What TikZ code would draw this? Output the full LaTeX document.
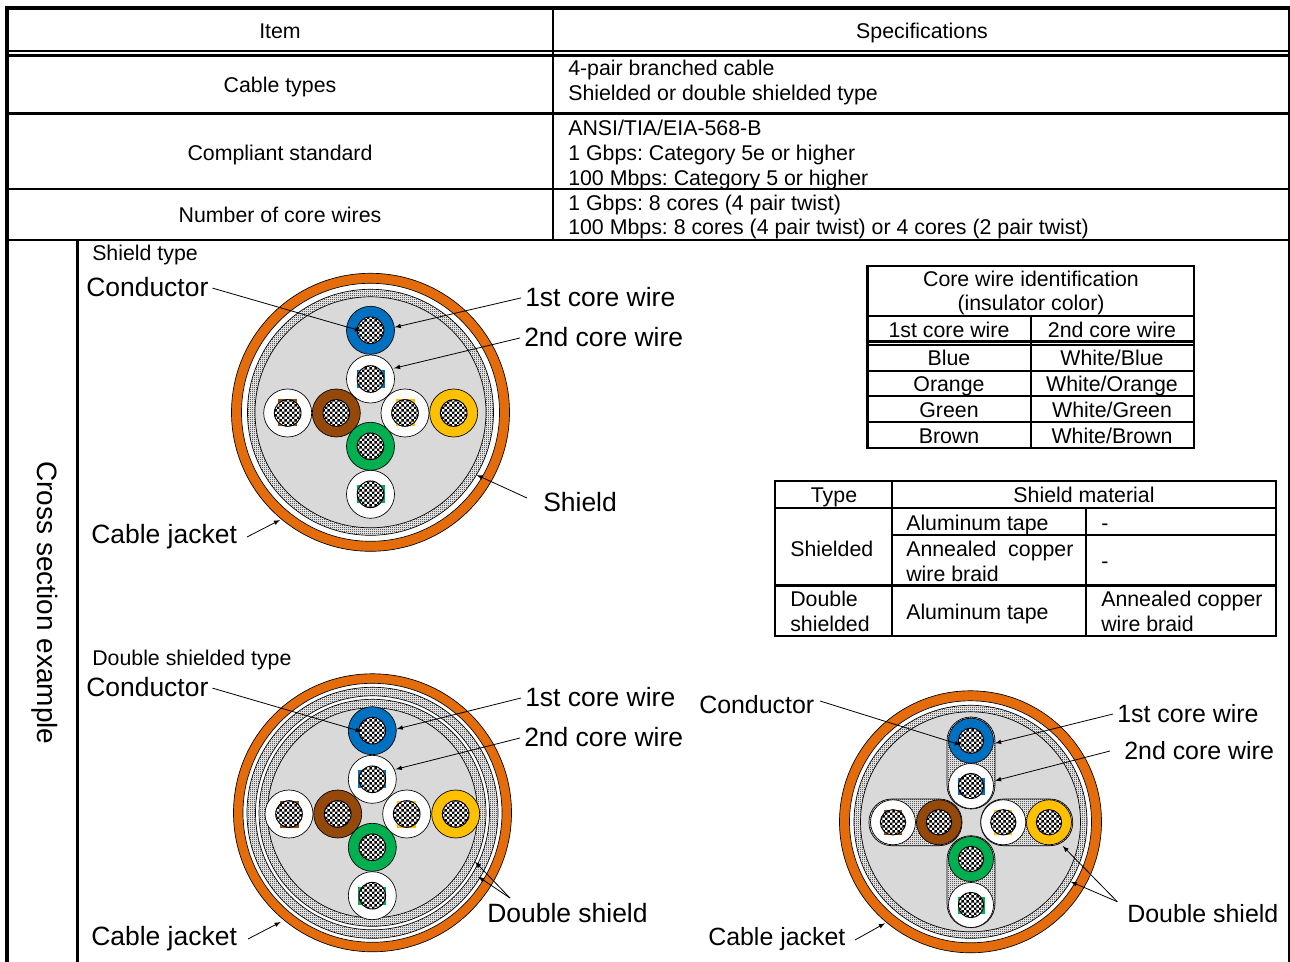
\documentclass[tikz,border=0pt]{standalone}
\usepackage{fontspec}
\setmainfont{Liberation Sans}
\usepackage{tikz}
\usetikzlibrary{arrows,patterns}
\definecolor{jacketorange}{RGB}{228,108,10}
\definecolor{coreblue}{RGB}{0,112,192}
\definecolor{corebrown}{RGB}{148,72,10}
\definecolor{coregreen}{RGB}{0,176,80}
\definecolor{coreorange}{RGB}{255,192,0}
\definecolor{fillgray}{RGB}{217,217,217}
\pgfdeclarepatternformonly{finedots}{\pgfpointorigin}{\pgfqpoint{1.5pt}{1.5pt}}{\pgfqpoint{1.5pt}{1.5pt}}{\pgfpathrectangle{\pgfpointorigin}{\pgfqpoint{0.75pt}{0.75pt}}\pgfpathrectangle{\pgfqpoint{0.75pt}{0.75pt}}{\pgfqpoint{0.75pt}{0.75pt}}\pgfusepath{fill}}
\pgfdeclarepatternformonly{finecheck}{\pgfpointorigin}{\pgfqpoint{4pt}{4pt}}{\pgfqpoint{4pt}{4pt}}{\pgfpathrectangle{\pgfpointorigin}{\pgfqpoint{2pt}{2pt}}\pgfpathrectangle{\pgfqpoint{2pt}{2pt}}{\pgfqpoint{2pt}{2pt}}\pgfusepath{fill}}
\tikzset{
  celltext/.style={inner sep=0pt,align=left,font=\fontsize{16}{18.6}\selectfont\frenchspacing},
  bigtext/.style={inner sep=0pt,font=\fontsize{19.85}{22}\selectfont},
  midtext/.style={inner sep=0pt,font=\fontsize{18.7}{22}\selectfont},
  frame/.style={line width=2.7pt},
  rule/.style={line width=1.6pt},
  subrule/.style={line width=1.6pt},
  jacket/.style={draw,fill=jacketorange,line width=0.5pt},
  whitegap/.style={draw,fill=white,line width=0.5pt},
  shieldband/.style={draw,line width=0.5pt,preaction={fill=white},pattern=finedots},
  grayfill/.style={draw,fill=fillgray,line width=0.5pt},
  insul/.style={circle,draw,line width=0.5pt,inner sep=0pt,minimum size=\insulsize},
  conductor/.style={circle,draw,line width=0.7pt,inner sep=0pt,minimum size=\condsize,preaction={fill=white},pattern=finecheck},
  leader/.style={-latex,line width=0.6pt},
  nodeleader/.style={-latex,line width=0.6pt,shorten <=3pt},
}
% one wire: name, x, y, colour
\newcommand{\corewire}[4]{
  \node [insul,fill=#4] (#1) at (#2,#3) {};
  \node [conductor] (#1c) at (#2,#3) {};
}
% white wire with stripe: name, x, y, colour, stripe w, stripe h
\newcommand{\stripewire}[6]{
  \node [insul,fill=white] (#1) at (#2,#3) {};
  \fill [#4] ({#2-#5/2},{#3-#6/2}) rectangle ({#2+#5/2},{#3+#6/2});
  \node [conductor] (#1c) at (#2,#3) {};
}
\begin{document}
\begin{tikzpicture}[x=0.75pt,y=-0.75pt]
  \useasboundingbox (0,0) rectangle (1290,962);
  % main table
  \draw [frame] (7,962)--(7,8)--(1290,8);
  \draw [rule] (1289,8)--(1289,962);
  \draw [rule] (6,51)--(1290,51);
  \draw [rule] (6,55.5)--(1290,55.5);
  \draw [rule] (6,113.5)--(1290,113.5);
  \draw [rule] (6,189)--(1290,189);
  \draw [rule] (6,240)--(1290,240);
  \draw [rule] (553,8)--(553,240);
  \draw [rule] (77.5,240)--(77.5,962);
  \node [celltext] (item) at (280,31) {Item};
  \node [celltext] (spec) at (922,33) {Specifications};
  \node [celltext] (types) at (280,87) {Cable types};
  \node [celltext,anchor=west] (typesv) at (568,82.5) {4-pair branched cable\\Shielded or double shielded type};
  \node [celltext] (standard) at (280,155) {Compliant standard};
  \node [celltext,anchor=west] (standardv) at (568,155) {ANSI/TIA/EIA-568-B\\1 Gbps: Category 5e or higher\\100 Mbps: Category 5 or higher};
  \node [celltext] (number) at (280,215) {Number of core wires};
  \node [celltext,anchor=west] (numberv) at (568,217) {1 Gbps: 8 cores (4 pair twist)\\100 Mbps: 8 cores (4 pair twist) or 4 cores (2 pair twist)};
  \node [inner sep=0pt,rotate=-90,font=\fontsize{21}{24}\selectfont] (cross) at (45,603) {Cross section example};
  \node [celltext,anchor=west] (shieldtype) at (92,255) {Shield type};
  \node [celltext,anchor=west] (doubletype) at (92,660) {Double shielded type};

  % colour table
  \draw [subrule] (867.5,266) rectangle (1194,448);
  \draw [subrule] (867.5,316)--(1194,316);
  \draw [subrule] (867.5,341.5)--(1194,341.5);
  \draw [subrule] (867.5,345)--(1194,345);
  \draw [subrule] (867.5,371)--(1194,371);
  \draw [subrule] (867.5,396)--(1194,396);
  \draw [subrule] (867.5,422)--(1194,422);
  \draw [subrule] (1031,316)--(1031,448);
  \node [celltext,align=center] (idhead) at (1031,293) {Core wire identification\\(insulator color)};
  \node [celltext] (h1st) at (949,330) {1st core wire};
  \node [celltext] (h2nd) at (1112,330) {2nd core wire};
  \node [celltext] (cblue) at (949,358) {Blue};
  \node [celltext] (cwblue) at (1112,358) {White/Blue};
  \node [celltext] (corange) at (949,386) {Orange};
  \node [celltext] (cworange) at (1112,386) {White/Orange};
  \node [celltext] (cgreen) at (949,410) {Green};
  \node [celltext] (cwgreen) at (1112,410) {White/Green};
  \node [celltext] (cbrown) at (949,436) {Brown};
  \node [celltext] (cwbrown) at (1112,436) {White/Brown};

  % shield table
  \draw [subrule] (775,481) rectangle (1276,636);
  \draw [line width=2.2pt] (775,508)--(1276,508);
  \draw [subrule] (892,481)--(892,636);
  \draw [subrule] (1086,508)--(1086,636);
  \draw [subrule] (892,535)--(1276,535);
  \draw [subrule] (775,585.5)--(1276,585.5);
  \node [celltext] (ttype) at (834,497) {Type};
  \node [celltext] (tmat) at (1084,495) {Shield material};
  \node [celltext,anchor=west] (tshielded) at (790,549) {Shielded};
  \node [celltext,anchor=west] (tal1) at (906,525) {Aluminum tape};
  \node [celltext,anchor=west] (tdash1) at (1101,527) {-};
  \node [celltext,anchor=west] (tann1) at (906,561) {Annealed\ \ copper\\wire braid};
  \node [celltext,anchor=west] (tdash2) at (1101,565) {-};
  \node [celltext,anchor=west] (tdouble) at (790,611) {Double\\shielded};
  \node [celltext,anchor=west] (tal2) at (906,614) {Aluminum tape};
  \node [celltext,anchor=west] (tann2) at (1101,611) {Annealed copper\\wire braid};

  % shield type cable
  \def\insulsize{36pt}
  \def\condsize{20pt}
  \draw [jacket] (370.5,412.3) circle (139);
  \draw [whitegap] (370.5,412.3) circle (129);
  \draw [shieldband] (370.5,412.3) circle (123);
  \draw [grayfill] (370.5,412.3) circle (115.5);
  \corewire{ablue}{370.5}{330.3}{coreblue}
  \stripewire{awblue}{370.5}{379}{coreblue}{28}{18}
  \stripewire{awbrown}{287.7}{413}{corebrown}{19}{27}
  \corewire{abrown}{336.3}{413}{corebrown}
  \stripewire{aworange}{405}{413}{coreorange}{19}{27}
  \corewire{aorange}{453.7}{413}{coreorange}
  \corewire{agreen}{370.5}{446.3}{coregreen}
  \stripewire{awgreen}{370.5}{494.3}{coregreen}{28}{18}
  \node [bigtext,anchor=west] (acond) at (86,287) {Conductor};
  \node [bigtext,anchor=west] (a1st) at (525,297) {1st core wire};
  \node [bigtext,anchor=west] (a2nd) at (524,337) {2nd core wire};
  \node [bigtext,anchor=west] (ashield) at (543,502) {Shield};
  \node [bigtext,anchor=west] (ajacket) at (91,537) {Cable jacket};
  \coordinate (tipacond) at (361,331);
  \coordinate (tipa1st) at (394.7,327.3);
  \coordinate (tipa2nd) at (394,368.3);
  \coordinate (froma) at (527,498);
  \coordinate (tipashield) at (476.7,475);
  \coordinate (fromajack) at (247,537);
  \coordinate (tipajacket) at (280,520);
  \draw [nodeleader] (acond.east)--(tipacond);
  \draw [nodeleader] (a1st.west)--(tipa1st);
  \draw [nodeleader] (a2nd.west)--(tipa2nd);
  \draw [leader] (froma)--(tipashield);
  \draw [leader] (fromajack)--(tipajacket);

  % double shielded type cable
  \draw [jacket] (372.5,812.8) circle (139);
  \draw [whitegap] (372.5,812.8) circle (129.5);
  \draw [shieldband] (372.5,812.8) circle (125.5);
  \draw [whitegap] (372.5,812.8) circle (117);
  \draw [shieldband] (372.5,812.8) circle (113.5);
  \draw [grayfill] (372.5,812.8) circle (105);
  \corewire{bblue}{372.3}{730.7}{coreblue}
  \stripewire{bwblue}{372.3}{779.3}{coreblue}{28}{18}
  \stripewire{bwbrown}{289}{814}{corebrown}{19}{27}
  \corewire{bbrown}{337.7}{814}{corebrown}
  \stripewire{bworange}{406.7}{814}{coreorange}{19}{27}
  \corewire{borange}{455.7}{814}{coreorange}
  \corewire{bgreen}{372.3}{847.3}{coregreen}
  \stripewire{bwgreen}{372.3}{895.7}{coregreen}{28}{18}
  \node [bigtext,anchor=west] (bcond) at (86,687) {Conductor};
  \node [bigtext,anchor=west] (b1st) at (525,697) {1st core wire};
  \node [bigtext,anchor=west] (b2nd) at (524,737) {2nd core wire};
  \node [bigtext,anchor=west] (bdouble) at (487,913) {Double shield};
  \node [bigtext,anchor=west] (bjacket) at (91,939) {Cable jacket};
  \coordinate (fromb) at (510,898);
  \coordinate (tipbcond) at (361.7,731.7);
  \coordinate (tipb1st) at (396.7,729);
  \coordinate (tipb2nd) at (395.7,769.3);
  \coordinate (tipbin) at (475,861.7);
  \coordinate (tipbout) at (478.3,876.7);
  \coordinate (frombjack) at (248,939);
  \coordinate (tipbjacket) at (280.7,922);
  \draw [nodeleader] (bcond.east)--(tipbcond);
  \draw [nodeleader] (b1st.west)--(tipb1st);
  \draw [nodeleader] (b2nd.west)--(tipb2nd);
  \draw [leader] (fromb)--(tipbin);
  \draw [leader] (fromb)--(tipbout);
  \draw [leader] (frombjack)--(tipbjacket);

  % third cable, each pair wrapped
  \def\insulsize{33.75pt}
  \def\condsize{19pt}
  \draw [jacket] (970.5,821.8) circle (131);
  \draw [whitegap] (970.5,821.8) circle (121);
  \draw [shieldband] (970.5,821.8) circle (116.5);
  \draw [grayfill] (970.5,821.8) circle (110);
  \draw [shieldband,rounded corners=17.9pt] (947,717) rectangle (995,809);
  \draw [shieldband,rounded corners=17.9pt] (947,835.7) rectangle (995,927.7);
  \draw [shieldband,rounded corners=17pt] (869,799) rectangle (962,845.7);
  \draw [shieldband,rounded corners=17pt] (980.7,799) rectangle (1072.7,845.7);
  \corewire{cblueb}{971}{740.7}{coreblue}
  \stripewire{cwblueb}{971}{786}{coreblue}{27}{17}
  \stripewire{cwbrownb}{893}{822.3}{corebrown}{18}{25}
  \corewire{cbrownb}{939}{822.3}{corebrown}
  \stripewire{cworangeb}{1003.3}{822.3}{coreorange}{18}{25}
  \corewire{corangeb}{1049}{822.3}{coreorange}
  \corewire{cgreenb}{971}{859}{coregreen}
  \stripewire{cwgreenb}{971}{905}{coregreen}{27}{17}
  \node [midtext,anchor=west] (ccond) at (699,705) {Conductor};
  \node [midtext,anchor=west] (c1st) at (1117,714) {1st core wire};
  \node [midtext,anchor=west] (c2nd) at (1124,751) {2nd core wire};
  \node [midtext,anchor=west] (cdouble) at (1127,914) {Double shield};
  \node [midtext,anchor=west] (cjacket) at (708,939) {Cable jacket};
  \coordinate (fromccond) at (820,701);
  \coordinate (fromc1st) at (1113,714);
  \coordinate (fromc2nd) at (1110,751);
  \coordinate (fromc) at (1117.3,901.7);
  \coordinate (fromcjack) at (855,940);
  \coordinate (tipccond) at (961,745);
  \coordinate (tipc1st) at (995,743.3);
  \coordinate (tipc2nd) at (995,780.7);
  \coordinate (tipcin) at (1062.7,846);
  \coordinate (tipcout) at (1070.7,881.7);
  \coordinate (tipcjacket) at (885,923.3);
  \draw [leader] (fromccond)--(tipccond);
  \draw [leader] (fromc1st)--(tipc1st);
  \draw [leader] (fromc2nd)--(tipc2nd);
  \draw [leader] (fromc)--(tipcin);
  \draw [leader] (fromc)--(tipcout);
  \draw [leader] (fromcjack)--(tipcjacket);
\end{tikzpicture}
\end{document}
